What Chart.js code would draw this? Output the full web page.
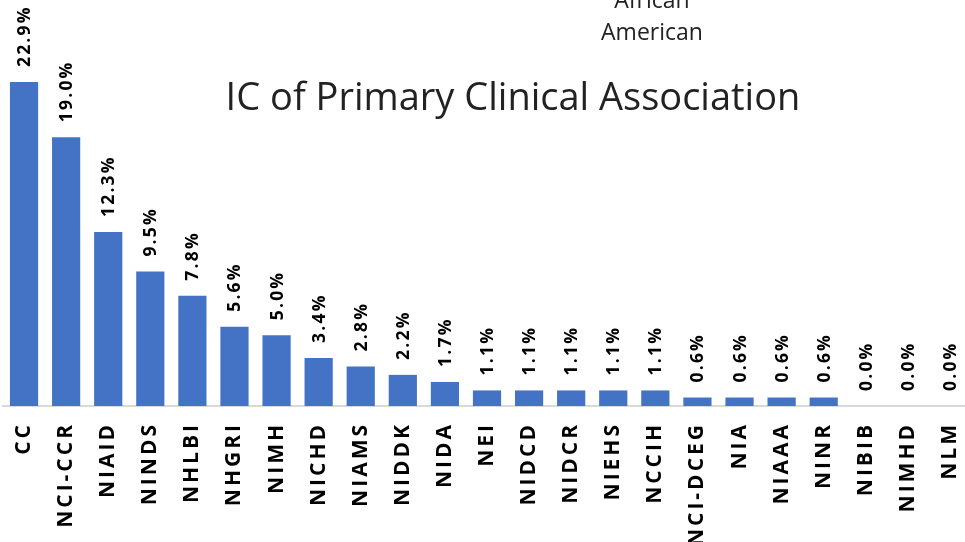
<!DOCTYPE html>
<html>
<head>
<meta charset="utf-8">
<script src="https://cdn.jsdelivr.net/npm/chart.js@4.4.1/dist/chart.umd.min.js"></script>
<style>
  html, body { margin: 0; padding: 0; background: #fff; overflow: hidden; }
  #wrap { position: relative; width: 965px; height: 542px; overflow: hidden; }
  #chart { position: absolute; left: 0; top: 0; }
  .title { position: absolute; left: 0; width: 1026px; top: 69px; text-align: center;
           font-family: "Open Sans", sans-serif; font-size: 38px; color: #222; white-space: nowrap; }
  .note { position: absolute; left: 552px; width: 200px; top: -17px; text-align: center;
          font-family: "Open Sans", sans-serif; font-size: 23px; line-height: 32px; color: #222; }
</style>
</head>
<body>
<div id="wrap">
  <canvas id="chart" width="971" height="542"></canvas>
  <div class="title">IC of Primary Clinical Association</div>
  <div class="note">African<br>American</div>
</div>
<script>
const categories = ['CC', 'NCI-CCR', 'NIAID', 'NINDS', 'NHLBI', 'NHGRI', 'NIMH', 'NICHD', 'NIAMS', 'NIDDK',
    'NIDA', 'NEI', 'NIDCD', 'NIDCR', 'NIEHS', 'NCCIH', 'NCI-DCEG', 'NIA', 'NIAAA', 'NINR', 'NIBIB', 'NIMHD', 'NLM'];
const shares = [22.9, 19.0, 12.3, 9.5, 7.8, 5.6, 5.0, 3.4, 2.8, 2.2,
    1.7, 1.1, 1.1, 1.1, 1.1, 1.1, 0.6, 0.6, 0.6, 0.6, 0.0, 0.0, 0.0];

// spacing for the rotated tick labels
const tickSpacing = {
    id: 'tickSpacing',
    beforeDraw(chart) { chart.ctx.letterSpacing = '3px'; },
    beforeDatasetsDraw(chart) { chart.ctx.letterSpacing = '0px'; }
};

// percent labels above each bar, rotated
const barLabels = {
    id: 'barLabels',
    afterDatasetsDraw(chart) {
        const ctx = chart.ctx;
        const meta = chart.getDatasetMeta(0);
        meta.data.forEach(function (bar, i) {
            ctx.save();
            ctx.letterSpacing = '2.2px';
            ctx.translate(bar.x, bar.y - 15);
            ctx.rotate(-Math.PI / 2);
            ctx.font = 'bold 17.5px "Open Sans"';
            ctx.fillStyle = '#000';
            ctx.textAlign = 'left';
            ctx.textBaseline = 'middle';
            ctx.fillText(shares[i].toFixed(1) + '%', 0, 1);
            ctx.restore();
        });
    }
};

new Chart(document.getElementById('chart').getContext('2d'), {
    type: 'bar',
    data: {
        labels: categories,
        datasets: [{
            data: shares,
            backgroundColor: '#4472C4',
            categoryPercentage: 1,
            barPercentage: 0.67
        }]
    },
    options: {
        responsive: false,
        animation: false,
        layout: { padding: { left: 3, right: 0, top: 0, bottom: 0 } },
        plugins: {
            legend: { display: false },
            tooltip: { enabled: false }
        },
        scales: {
            x: {
                grid: { display: false, drawTicks: false },
                border: { display: true, color: '#d9d9d9', width: 2 },
                ticks: {
                    minRotation: 90,
                    maxRotation: 90,
                    autoSkip: false,
                    padding: 16,
                    color: '#000',
                    font: { family: 'Open Sans', size: 21, weight: 'bold' }
                },
                afterFit: function (scale) {
                    scale.height = 136;
                    scale.paddingLeft = 0;
                    scale.paddingRight = 0;
                }
            },
            y: {
                display: false,
                min: 0,
                max: 28.7
            }
        }
    },
    plugins: [tickSpacing, barLabels]
});
</script>
</body>
</html>
